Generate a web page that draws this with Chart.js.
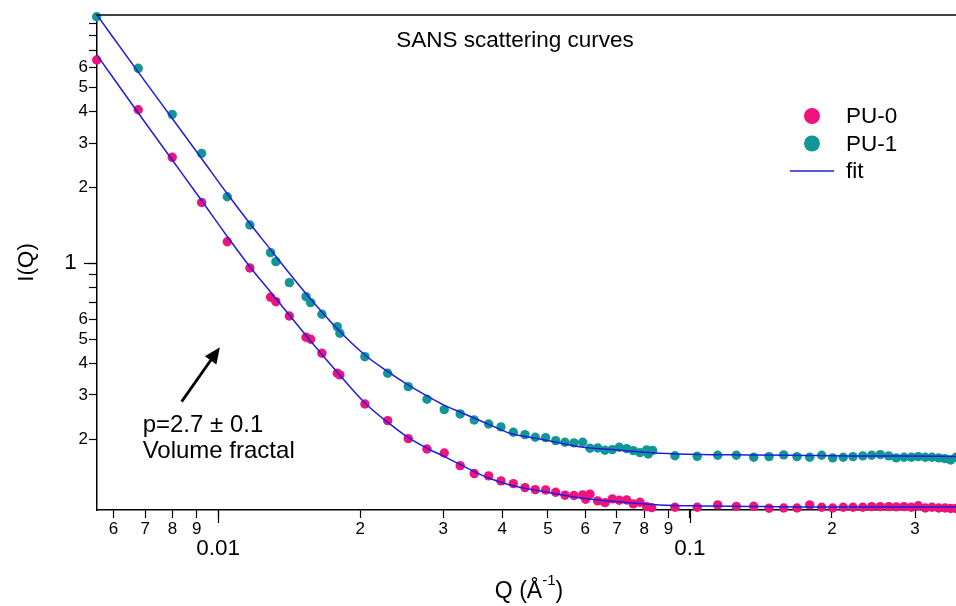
<!DOCTYPE html>
<html><head><meta charset="utf-8">
<script src="https://cdn.jsdelivr.net/npm/chart.js@4.4.1/dist/chart.umd.min.js"></script>
<style>html,body{margin:0;padding:0;background:#fff}#wrap{width:956px;height:606px;position:relative}</style>
</head><body><div id="wrap"><canvas id="c"></canvas></div>
<script>
// ---- data ----
const q0 = [0.005525,0.006767,0.007989,0.009222,0.01045,0.01167,0.01291,0.01325,0.01415,0.01535,0.01570,0.01659,0.01788,0.01811,0.02046,0.02287,0.02528,0.02770,0.03014,0.03258,0.03489,0.03743,0.03975,0.04222,0.04469,0.04699,0.04944,0.05192,0.05433,0.05677,0.05923,0.06011,0.06138,0.06374,0.06605,0.06845,0.07082,0.07342,0.07583,0.07834,0.08095,0.08295,0.09293,0.1036,0.1145,0.1254,0.1365,0.1471,0.1580,0.1686,0.1794,0.1902,0.2007,0.2113,0.2216,0.2324,0.2428,0.2532,0.2638,0.2737,0.2843,0.2946,0.3048,0.3154,0.3258,0.3367,0.3472,0.3570,0.3664];
const i0 = [6.418,4.074,2.636,1.744,1.218,0.9579,0.7328,0.7039,0.6175,0.5084,0.4992,0.4391,0.3658,0.3602,0.2762,0.2371,0.2011,0.1830,0.1764,0.1571,0.1461,0.1430,0.1366,0.1333,0.1285,0.1262,0.1258,0.1232,0.1199,0.1195,0.1202,0.1155,0.1210,0.1138,0.1120,0.1159,0.1145,0.1148,0.1107,0.1124,0.1080,0.1070,0.1074,0.1074,0.1097,0.1082,0.1083,0.1064,0.1066,0.1066,0.1097,0.1074,0.1066,0.1074,0.1074,0.1074,0.1080,0.1080,0.1080,0.1077,0.1080,0.1074,0.1088,0.1066,0.1074,0.1066,0.1066,0.1061,0.1061];
const q1 = [0.005525,0.006767,0.007989,0.009222,0.01045,0.01167,0.01291,0.01325,0.01415,0.01535,0.01570,0.01659,0.01788,0.01811,0.02046,0.02287,0.02528,0.02770,0.03014,0.03258,0.03489,0.03743,0.03975,0.04222,0.04469,0.04699,0.04944,0.05192,0.05433,0.05677,0.05923,0.06138,0.06374,0.06605,0.06845,0.07082,0.07342,0.07583,0.07834,0.08095,0.08158,0.08335,0.09293,0.1036,0.1145,0.1254,0.1365,0.1471,0.1580,0.1686,0.1794,0.1902,0.2007,0.2113,0.2216,0.2324,0.2428,0.2532,0.2638,0.2737,0.2843,0.2946,0.3048,0.3154,0.3258,0.3367,0.3472,0.3570,0.3664];
const i1 = [9.535,5.950,3.906,2.734,1.838,1.419,1.102,1.015,0.8377,0.7368,0.6976,0.6272,0.5602,0.5272,0.4256,0.3658,0.3236,0.2884,0.2622,0.2521,0.2386,0.2300,0.2239,0.2133,0.2087,0.2037,0.2030,0.1975,0.1946,0.1934,0.1946,0.1842,0.1847,0.1809,0.1819,0.1859,0.1835,0.1802,0.1770,0.1814,0.1748,0.1805,0.1720,0.1711,0.1728,0.1728,0.1697,0.1706,0.1733,0.1706,0.1697,0.1728,0.1686,0.1697,0.1706,0.1717,0.1728,0.1738,0.1717,0.1686,0.1697,0.1697,0.1706,0.1697,0.1697,0.1686,0.1675,0.1655,0.1697];
const qFit = [0.005534,0.006757,0.007977,0.009235,0.010434,0.01167,0.01287,0.01419,0.0155,0.01794,0.02046,0.02289,0.02525,0.0277,0.0301,0.03254,0.03484,0.0373,0.04154,0.04808,0.05932,0.07107,0.08638,0.105,0.134,0.1711,0.2184,0.2787,0.3664];
const fit0 = [6.717,3.971,2.584,1.768,1.284,0.9694,0.7749,0.6187,0.5051,0.3665,0.2788,0.2332,0.2033,0.1842,0.1709,0.1589,0.1490,0.1406,0.1317,0.1247,0.1166,0.1127,0.1097,0.1087,0.1082,0.1077,0.1077,0.1077,0.1077];
const fit1 = [9.685,5.771,3.776,2.596,1.897,1.439,1.142,0.9068,0.7410,0.5453,0.4323,0.3712,0.3287,0.2972,0.2732,0.2567,0.2430,0.2300,0.2113,0.2006,0.1859,0.1810,0.1760,0.1740,0.1733,0.1725,0.1717,0.1717,0.1709];
const xTicks = [0.006,0.007,0.008,0.009,0.01,0.02,0.03,0.04,0.05,0.06,0.07,0.08,0.09,0.1,0.2,0.3];
const xMajor = [0.01,0.1];
const yTicks = [0.2,0.3,0.4,0.5,0.6,0.7,0.8,0.9,1,2,3,4,5,6,7,8,9];
const yMajor = [1];
const yUnlabeled = [0.7,0.8,0.9,7,8,9];
const seriesNames = ['PU-0','PU-1','fit'];
const titleText = 'SANS scattering curves';
const noteLines = ['p=2.7 \u00B1 0.1','Volume fractal'];
const notePos = {x:0.006915, y1:0.2279, y2:0.1786};
const arrowFrom = {x:0.008365, y:0.2821};
const arrowTo = {x:0.01008, y:0.4638};

const FAM = '"Liberation Sans", Arial, sans-serif';
const C_PU0 = 'rgb(240,18,125)', C_PU1 = 'rgb(18,150,152)', C_FIT = 'rgb(30,30,218)';

const has = (list, v) => list.some(m => Math.abs(m - v) / m < 1e-6);
const digit = v => { const e = Math.floor(Math.log10(v) + 1e-9); return Math.round(v / Math.pow(10, e)); };
const pts = (xs, ys) => xs.map((x, k) => ({x: x, y: ys[k]}));

const decor = {
  id: 'decor',
  afterDraw(chart) {
    const ctx = chart.ctx, a = chart.chartArea, xs = chart.scales.x, ys = chart.scales.y;
    ctx.save();
    ctx.strokeStyle = '#000'; ctx.lineWidth = 1.5;
    // top frame
    ctx.beginPath(); ctx.moveTo(a.left - 0.75, a.top); ctx.lineTo(a.right, a.top); ctx.stroke();
    // longer major ticks
    ctx.lineWidth = 1.2;
    xMajor.forEach(v => { const p = Math.round(xs.getPixelForValue(v)) + 0.5; ctx.beginPath(); ctx.moveTo(p, a.bottom); ctx.lineTo(p, a.bottom + 13); ctx.stroke(); });
    yMajor.forEach(v => { const p = Math.round(ys.getPixelForValue(v)) + 0.5; ctx.beginPath(); ctx.moveTo(a.left, p); ctx.lineTo(a.left - 13, p); ctx.stroke(); });
    ctx.fillStyle = '#000';
    // title
    ctx.font = '22.5px ' + FAM; ctx.textAlign = 'center'; ctx.textBaseline = 'middle';
    ctx.fillText(titleText, 515, 41);
    // x axis title with superscript
    ctx.textAlign = 'left';
    const f1 = '23px ' + FAM, f2 = '15px ' + FAM;
    ctx.font = f1; const wA = ctx.measureText('Q (\u00C5').width, wC = ctx.measureText(')').width;
    ctx.font = f2; const wB = ctx.measureText('-1').width;
    let x0 = 529 - (wA + wB + wC) / 2; const yb = 592;
    ctx.font = f1; ctx.fillText('Q (\u00C5', x0, yb);
    ctx.font = f2; ctx.fillText('-1', x0 + wA, yb - 11);
    ctx.font = f1; ctx.fillText(')', x0 + wA + wB, yb);
    // legend
    const lx = 812, ly = [116, 143.5, 171];
    ctx.fillStyle = C_PU0; ctx.beginPath(); ctx.arc(lx, ly[0], 8, 0, Math.PI * 2); ctx.fill();
    ctx.fillStyle = C_PU1; ctx.beginPath(); ctx.arc(lx, ly[1], 8, 0, Math.PI * 2); ctx.fill();
    ctx.strokeStyle = C_FIT; ctx.lineWidth = 1.5; ctx.beginPath(); ctx.moveTo(790, ly[2]); ctx.lineTo(834, ly[2]); ctx.stroke();
    ctx.fillStyle = '#000'; ctx.font = '22.5px ' + FAM; ctx.textAlign = 'left';
    seriesNames.forEach((n, k) => ctx.fillText(n, 846, ly[k] + 1));
    // annotation arrow
    const ax = xs.getPixelForValue(arrowFrom.x), ay = ys.getPixelForValue(arrowFrom.y);
    const bx = xs.getPixelForValue(arrowTo.x), by = ys.getPixelForValue(arrowTo.y);
    const ang = Math.atan2(by - ay, bx - ax), hl = 16, hw = 7;
    const cx = bx - hl * Math.cos(ang), cy = by - hl * Math.sin(ang);
    ctx.strokeStyle = '#000'; ctx.lineWidth = 2.8;
    ctx.beginPath(); ctx.moveTo(ax, ay); ctx.lineTo(cx + 2 * Math.cos(ang), cy + 2 * Math.sin(ang)); ctx.stroke();
    ctx.beginPath(); ctx.moveTo(bx, by);
    ctx.lineTo(cx + hw * Math.sin(ang), cy - hw * Math.cos(ang));
    ctx.lineTo(cx - hw * Math.sin(ang), cy + hw * Math.cos(ang));
    ctx.closePath(); ctx.fill();
    ctx.font = '24px ' + FAM; ctx.textAlign = 'left'; ctx.textBaseline = 'middle';
    const tx = xs.getPixelForValue(notePos.x);
    ctx.fillText(noteLines[0], tx, ys.getPixelForValue(notePos.y1));
    ctx.fillText(noteLines[1], tx, ys.getPixelForValue(notePos.y2));
    ctx.restore();
  }
};

new Chart(document.getElementById('c'), {
  type: 'scatter',
  data: {
    datasets: [
      {label: 'fit', data: pts(qFit, fit0), showLine: true, pointRadius: 0, borderColor: C_FIT, borderWidth: 1.5, cubicInterpolationMode: 'monotone', fill: false, order: 0},
      {label: 'fit', data: pts(qFit, fit1), showLine: true, pointRadius: 0, borderColor: C_FIT, borderWidth: 1.5, cubicInterpolationMode: 'monotone', fill: false, order: 0},
      {label: seriesNames[0], data: pts(q0, i0), pointRadius: 4.7, pointBorderWidth: 0, backgroundColor: C_PU0, borderColor: C_PU0, clip: false, order: 1},
      {label: seriesNames[1], data: pts(q1, i1), pointRadius: 4.7, pointBorderWidth: 0, backgroundColor: C_PU1, borderColor: C_PU1, clip: false, order: 1}
    ]
  },
  options: {
    responsive: true, maintainAspectRatio: false, animation: false, devicePixelRatio: 1,
    layout: {autoPadding: false, padding: {top: 15, right: 0, bottom: 0, left: 0}},
    plugins: {legend: {display: false}, tooltip: {enabled: false}, title: {display: false}},
    events: [],
    scales: {
      x: {
        type: 'logarithmic', position: 'bottom', min: 0.005534, max: 0.3664,
        afterBuildTicks: s => { s.ticks = xTicks.map(v => ({value: v})); },
        afterFit: s => { s.height = 96; },
        border: {display: true, color: '#000', width: 1.5},
        grid: {display: true, drawOnChartArea: false, drawTicks: true, tickLength: 8, tickColor: '#000', tickWidth: 1.2},
        ticks: {
          autoSkip: false, maxRotation: 0, minRotation: 0, padding: 1, color: '#000',
          font: c => (c.tick && has(xMajor, c.tick.value)) ? {family: FAM, size: 22.5, lineHeight: 0.89} : {family: FAM, size: 17, lineHeight: 1.2},
          callback: v => has(xMajor, v) ? ['', String(v)] : String(digit(v))
        },
        title: {display: false}
      },
      y: {
        type: 'logarithmic', position: 'left', min: 0.1047, max: 9.69,
        afterBuildTicks: s => { s.ticks = yTicks.map(v => ({value: v})); },
        afterFit: s => { s.width = 97; },
        border: {display: true, color: '#000', width: 1.5},
        grid: {display: true, drawOnChartArea: false, drawTicks: true, tickLength: 8, tickColor: '#000', tickWidth: 1.2},
        ticks: {
          autoSkip: false, padding: 1, color: '#000',
          font: c => (c.tick && has(yMajor, c.tick.value)) ? {family: FAM, size: 22.5} : {family: FAM, size: 17},
          callback: v => has(yUnlabeled, v) ? '' : (has(yMajor, v) ? String(v) + '\u2002' : String(digit(v)))
        },
        title: {display: true, text: 'I(Q)', color: '#000', font: {family: FAM, size: 22.5}, padding: {top: 13, bottom: 0}}
      }
    }
  },
  plugins: [decor]
});
</script>
</body></html>
